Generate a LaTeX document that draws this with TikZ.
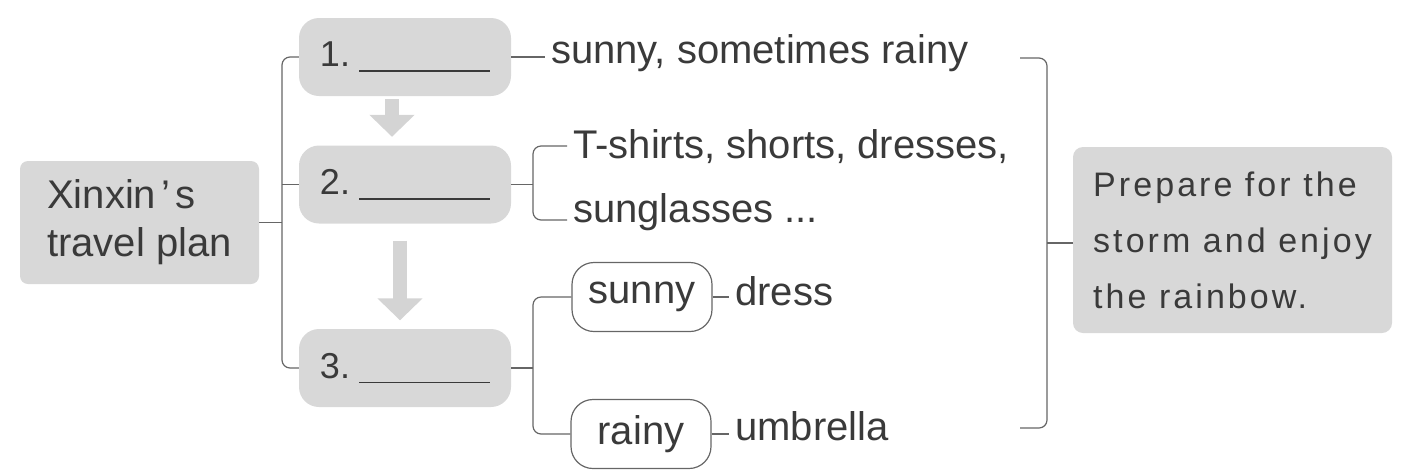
\documentclass[tikz,border=0pt]{standalone}
\usepackage{fontspec}
\setmainfont{Liberation Sans}
\usepackage{tikz}
\usetikzlibrary{arrows.meta}
\usepackage{xcolor}

\definecolor{boxgray}{HTML}{D8D8D8}
\definecolor{arrowgray}{HTML}{D4D4D4}
\definecolor{linegray}{HTML}{666666}
\definecolor{inkgray}{HTML}{3A3A3A}

\tikzset{
  topic/.style={fill=boxgray, rounded corners=8pt, inner sep=0pt, minimum width=239pt, minimum height=123pt, align=left, text=inkgray, font=\fontsize{40}{48}\selectfont},
  stepbox/.style={fill=boxgray, rounded corners=20pt, inner sep=0pt, minimum width=212pt, minimum height=78pt, text=inkgray, font=\fontsize{36}{40}\selectfont},
  casebox/.style={draw=linegray, line width=1.2pt, rounded corners=22pt, inner sep=0pt, minimum width=140pt, minimum height=69pt, text=inkgray, font=\fontsize{40}{46}\selectfont},
  txt/.style={anchor=base west, inner xsep=6pt, inner ysep=0pt, text=inkgray, font=\fontsize{40}{46}\selectfont},
  goal/.style={fill=boxgray, rounded corners=10pt, inner sep=0pt, minimum width=319pt, minimum height=186pt, align=left, text=inkgray, font=\fontsize{34}{56}\selectfont\addfontfeature{LetterSpace=9}},
  link/.style={draw=linegray, line width=1.2pt},
  flow/.style={draw=arrowgray, line width=14pt, -{Triangle[width=44pt, length=22pt]}},
}

\newcommand{\blank}{\hspace{9pt}\rule[-5pt]{131pt}{1.5pt}}

\begin{document}
\begin{tikzpicture}[x=1pt, y=-1pt]
    \useasboundingbox (0,0) rectangle (1420,475);

    \node[topic] (plan) at (139.5,222.5) {Xinxin\hspace{5pt}’\hspace{5pt}s\\travel plan};

    \node[stepbox] (b1) at (405,57) {1.\blank};
    \node[stepbox] (b2) at (405,184.5) {2.\blank};
    \node[stepbox] (b3) at (405,368) {3.\blank};

    \node[txt] (weather) at (545,63) {sunny, sometimes rainy};
    \node[txt] (wear1) at (567,158) {T-shirts, shorts, dresses,};
    \node[txt] (wear2) at (567,222) {sunglasses ...};

    \node[casebox] (sunny) at (642,297) {sunny};
    \node[casebox] (rainy) at (641,434) {rainy};
    \node[txt] (dress) at (729,305) {dress};
    \node[txt] (umbrella) at (729,440) {umbrella};

    \node[goal] (goal) at (1232.5,240) {Prepare for the\\storm and enjoy\\the rainbow.};

    \coordinate (lj) at (282,218);
    \coordinate (cj2) at (533,185);
    \coordinate (cj3) at (533,370);
    \coordinate (rt) at (1020,58);
    \coordinate (rb) at (1020,428);
    \coordinate (rj) at (1047,243);

    \draw[link] (plan.east) -- (plan.east -| lj);
    \draw[link, rounded corners=8pt] (b1.west) -| (lj) |- (b3.west);
    \draw[link] (b2.west) -- (b2.west -| lj);

    \draw[link] (b1.east) -- (b1.east -| weather.base west);
    \draw[link] (b2.east) -- (b2.east -| cj2);
    \draw[link, rounded corners=8pt] ([yshift=12pt]wear1.base west) -| (cj2) |- ([yshift=2pt]wear2.base west);
    \draw[link] (b3.east) -- (b3.east -| cj3);
    \draw[link, rounded corners=8pt] (sunny.west) -| (cj3) |- (rainy.west);
    \draw[link] (sunny.east) -- (sunny.east -| dress.base west);
    \draw[link] (rainy.east) -- (rainy.east -| umbrella.base west);

    \draw[link, rounded corners=8pt] (rt) -| (rj) |- (rb);
    \draw[link] (rj) -- (rj -| goal.west);

    \draw[flow] ([xshift=-13pt, yshift=-3pt]b1.south) -- ([xshift=-13pt, yshift=8.5pt]b2.north);
    \draw[flow] ([xshift=-5pt, yshift=-17pt]b2.south) -- ([xshift=-5pt, yshift=8.5pt]b3.north);
\end{tikzpicture}
\end{document}
